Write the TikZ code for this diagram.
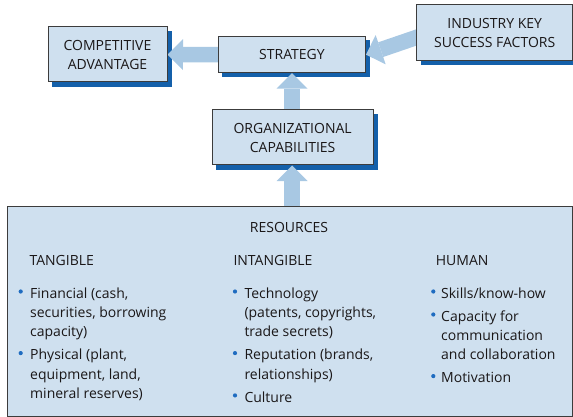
\documentclass[tikz,border=0pt]{standalone}
\usepackage{fontspec}
\setmainfont{Open Sans}
\usetikzlibrary{arrows.meta,calc}
\definecolor{boxfill}{HTML}{CFE0EF}
\definecolor{shadowblue}{HTML}{1460AA}
\definecolor{arrowblue}{HTML}{A8C8E3}
\definecolor{bulletblue}{HTML}{1F6CC0}
\definecolor{bordergray}{HTML}{3C3C3C}
\definecolor{textdark}{HTML}{1A1718}
\newcommand\bxfont{\fontsize{14}{19}\selectfont}
\newcommand\bdfont{\fontsize{14}{19.3}\selectfont}
\pgfdeclarelayer{background}
\pgfdeclarelayer{mid}
\pgfsetlayers{background,mid,main}
\begin{document}
\begin{tikzpicture}[x=1pt,y=-1pt,
  box/.style={draw=bordergray, line width=1pt, fill=boxfill, align=center,
    inner sep=0pt, font=\bxfont, text=textdark},
  bigarrow/.style={draw=arrowblue, line width=15.5pt,
    -{Triangle[length=15.5pt,width=31pt,line width=0pt]}},
  body/.style={anchor=base west, inner sep=0pt, font=\bdfont, text=textdark},
  dot/.style={circle, fill=bulletblue, inner sep=0pt, minimum size=4.2pt},
  shadowfill/.style={fill=shadowblue}]
\useasboundingbox (0,0) rectangle (573,417);

% boxes
\node[box, minimum width=119pt, minimum height=55pt] (ca) at (107.5,54.5) {COMPETITIVE\\ADVANTAGE};
\node[box, minimum width=147pt, minimum height=36pt] (st) at (292,54.7) {STRATEGY};
\node[box, minimum width=156pt, minimum height=55.7pt] (ksf) at (494.7,32.8) {INDUSTRY KEY\\SUCCESS FACTORS};
\node[box, minimum width=161pt, minimum height=55pt] (oc) at (292.6,137.5) {ORGANIZATIONAL\\CAPABILITIES};
\node[box, minimum width=565.5pt, minimum height=209.3pt] (res) at (289.75,311.35) {};

% shadows
\begin{pgfonlayer}{background}
\foreach \b in {ca,st,ksf,oc}{
  \fill[shadowfill] ($(\b.south west)+(4.3,4.3)$) rectangle ($(\b.north east)+(4.3,4.3)$);
}
\end{pgfonlayer}

% arrows
\begin{pgfonlayer}{mid}
\draw[bigarrow] (st.west) -- (ca.east);
\draw[bigarrow] ([xshift=5pt,yshift=-3pt]ksf.west) -- (st.east);
\draw[bigarrow] (st.south |- oc.north) -- (st.south);
\draw[bigarrow] (st.south |- res.north) -- (st.south |- oc.south);
\end{pgfonlayer}

% resources text
\node[body, anchor=base] (rtitle) at (289,232) {RESOURCES};
\node[body] (h1) at (29.3,265) {TANGIBLE};
\node[body] (h2) at (233.3,265) {INTANGIBLE};
\node[body] (h3) at (435.7,265) {HUMAN};

% tangible
\node[dot] (d1) at (20.7,291.5) {};
\node[body] (t1a) at (30,298.3) {Financial (cash,};
\node[body] (t1b) at (30,317.6) {securities, borrowing};
\node[body] (t1c) at (30,336.9) {capacity)};
\node[dot] (d2) at (20.7,353.1) {};
\node[body] (t2a) at (30,359.9) {Physical (plant,};
\node[body] (t2b) at (30,379.2) {equipment, land,};
\node[body] (t2c) at (30,398.5) {mineral reserves)};

% intangible
\node[dot] (d3) at (235,291.5) {};
\node[body] (i1a) at (244.3,298.3) {Technology};
\node[body] (i1b) at (244.3,317.6) {(patents, copyrights,};
\node[body] (i1c) at (244.3,336.9) {trade secrets)};
\node[dot] (d4) at (235,353.1) {};
\node[body] (i2a) at (244.3,359.9) {Reputation (brands,};
\node[body] (i2b) at (244.3,379.2) {relationships)};
\node[dot] (d5) at (235,395.4) {};
\node[body] (i3a) at (244.3,402.2) {Culture};

% human
\node[dot] (d6) at (433.3,291.5) {};
\node[body] (u1a) at (441,298.3) {Skills/know-how};
\node[dot] (d7) at (433.3,314.5) {};
\node[body] (u2a) at (441,321.3) {Capacity for};
\node[body] (u2b) at (441,340.6) {communication};
\node[body] (u2c) at (441,359.9) {and collaboration};
\node[dot] (d8) at (433.3,376.1) {};
\node[body] (u3a) at (441,382.9) {Motivation};
\end{tikzpicture}
\end{document}
